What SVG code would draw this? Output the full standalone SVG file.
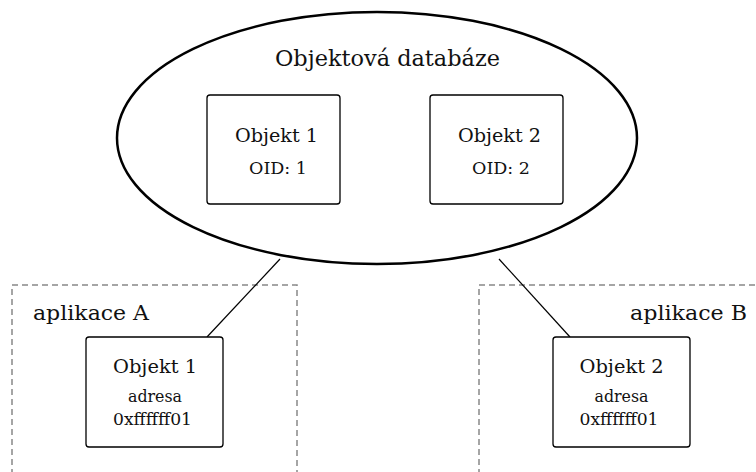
<svg xmlns="http://www.w3.org/2000/svg" width="756" height="472" viewBox="0 0 756 472">
<style>
text{font-family:"DejaVu Serif","Liberation Serif",serif;fill:#111;text-anchor:middle}
.box{fill:#fff;stroke:#000;stroke-width:1.3}
.app{fill:none;stroke:#888;stroke-width:1.5;stroke-dasharray:6 4}
.con{stroke:#000;stroke-width:1.2;fill:none}
.lbl{font-size:21px}
.t1{font-size:19px}
.t2{font-size:16px}
</style>
<rect width="756" height="472" fill="#fff"/>
<g id="appA"><rect class="app" x="12" y="285" width="285" height="200"/><text x="91" y="320" class="lbl" textLength="116" lengthAdjust="spacingAndGlyphs">aplikace A</text></g>
<g id="appB"><rect class="app" x="479" y="285" width="290" height="200"/><text x="688.5" y="320" class="lbl" textLength="117" lengthAdjust="spacingAndGlyphs">aplikace B</text></g>
<g id="connectors">
<line class="con" x1="280" y1="259" x2="207" y2="337"/>
<line class="con" x1="499" y1="259" x2="570" y2="337"/>
</g>
<g id="db"><ellipse cx="377" cy="138" rx="260" ry="126" fill="#fff" stroke="#000" stroke-width="2.5"/><text x="387.5" y="66" style="font-size:22px" textLength="225" lengthAdjust="spacingAndGlyphs">Objektová databáze</text></g>
<g id="dbObj1"><rect class="box" x="207" y="95" width="133" height="109" rx="3"/><text x="276.5" y="142" class="t1" textLength="83" lengthAdjust="spacingAndGlyphs">Objekt 1</text><text x="278" y="174" class="t2" textLength="58" lengthAdjust="spacingAndGlyphs">OID: 1</text></g>
<g id="dbObj2"><rect class="box" x="430" y="95" width="133" height="109" rx="3"/><text x="499.5" y="142" class="t1" textLength="83" lengthAdjust="spacingAndGlyphs">Objekt 2</text><text x="501" y="174" class="t2" textLength="58" lengthAdjust="spacingAndGlyphs">OID: 2</text></g>
<g id="appObj1"><rect class="box" x="86" y="337" width="137" height="110" rx="3"/><text x="155" y="373" class="t1" textLength="84" lengthAdjust="spacingAndGlyphs">Objekt 1</text><text x="155" y="402" class="t2" textLength="54" lengthAdjust="spacingAndGlyphs">adresa</text><text x="152.5" y="425" class="t2" textLength="79" lengthAdjust="spacingAndGlyphs">0xffffff01</text></g>
<g id="appObj2"><rect class="box" x="553" y="337" width="137" height="110" rx="3"/><text x="621.5" y="373" class="t1" textLength="84" lengthAdjust="spacingAndGlyphs">Objekt 2</text><text x="621.5" y="402" class="t2" textLength="54" lengthAdjust="spacingAndGlyphs">adresa</text><text x="619" y="425" class="t2" textLength="79" lengthAdjust="spacingAndGlyphs">0xffffff01</text></g>
</svg>
